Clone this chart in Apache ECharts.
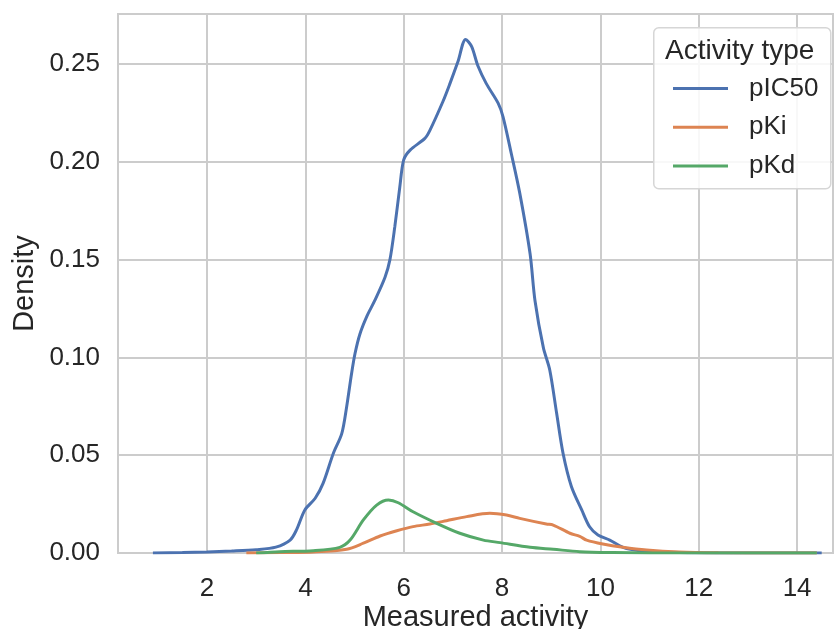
<html>
<head>
<script src="https://cdn.jsdelivr.net/npm/echarts@6/dist/echarts.min.js"></script>
</head>
<body style="margin:0">
<div id="main" style="width:834px;height:629px;"></div>
<script>
// KDE curves: x = measured activity, y = density
var seriesNames = ['pIC50', 'pKi', 'pKd'];
var seriesColors = ['#4c72b0', '#dd8452', '#55a868'];

var ic50X = [0.9, 1.5, 2.0, 2.5, 3.0, 3.4, 3.69, 3.82, 3.99, 4.2, 4.36, 4.57, 4.74, 4.84, 4.94, 5.01, 5.11, 5.25, 5.41, 5.62, 5.72, 5.82, 5.92, 6.0, 6.13, 6.43, 6.53, 6.8, 6.94, 7.1, 7.26, 7.38, 7.51, 7.68, 7.92, 8.02, 8.19, 8.36, 8.57, 8.67, 8.84, 8.97, 9.11, 9.24, 9.41, 9.62, 9.78, 9.95, 10.19, 10.46, 10.8, 11.6, 12.5, 13.5, 14.5];
var ic50Y = [0.0, 0.0002, 0.0005, 0.001, 0.0017, 0.003, 0.0066, 0.0118, 0.022, 0.028, 0.0356, 0.051, 0.061, 0.0748, 0.0918, 0.102, 0.112, 0.121, 0.129, 0.141, 0.150, 0.167, 0.187, 0.201, 0.206, 0.212, 0.216, 0.231, 0.240, 0.251, 0.2626, 0.259, 0.249, 0.240, 0.230, 0.223, 0.204, 0.184, 0.153, 0.129, 0.105, 0.0936, 0.0714, 0.051, 0.034, 0.022, 0.0134, 0.0092, 0.0066, 0.0029, 0.0012, 0.0002, 0.0, 0.0, 0.0];

var kiX = [2.8, 3.5, 4.16, 4.84, 5.18, 5.52, 5.86, 6.19, 6.53, 6.87, 7.28, 7.75, 8.09, 8.36, 8.9, 9.04, 9.38, 9.58, 9.72, 10.05, 10.46, 10.94, 11.6, 12.4, 13.5, 14.4];
var kiY = [0.0, 0.0002, 0.0005, 0.0019, 0.005, 0.0087, 0.0114, 0.0135, 0.0148, 0.0165, 0.0186, 0.0203, 0.0194, 0.0177, 0.0148, 0.0143, 0.0101, 0.0085, 0.0066, 0.0046, 0.0029, 0.0015, 0.0005, 0.0001, 0.0, 0.0];

var kdX = [3.0, 3.48, 4.16, 4.7, 4.91, 5.18, 5.45, 5.69, 5.89, 6.19, 6.67, 7.14, 7.62, 7.96, 8.57, 9.04, 9.58, 10.26, 11.0, 12.5, 14.4];
var kdY = [0.0, 0.0007, 0.0012, 0.0029, 0.0066, 0.0169, 0.0245, 0.0271, 0.0257, 0.0211, 0.0152, 0.0101, 0.0066, 0.0053, 0.0029, 0.0019, 0.0007, 0.0002, 0.0, 0.0, 0.0];

var xTicks = [2, 4, 6, 8, 10, 12, 14];
var yTicks = [0.00, 0.05, 0.10, 0.15, 0.20, 0.25];

function pairs(xs, ys) {
    return xs.map(function (x, i) { return [x, ys[i]]; });
}

var myChart = echarts.init(document.getElementById('main'));
var font = 'Liberation Sans, Arial, sans-serif';
var gridColor = '#cccccc';
var ink = '#262626';

var allX = [ic50X, kiX, kdX];
var allY = [ic50Y, kiY, kdY];

var option = {
    animation: false,
    textStyle: { fontFamily: font },
    grid: {
        left: 118, right: 1, top: 14, bottom: 76,
        outerBoundsMode: 'none', containLabel: false,
        show: true, borderColor: gridColor, borderWidth: 2
    },
    xAxis: {
        type: 'value', min: 0.19, max: 14.73, minInterval: 2, maxInterval: 2,
        name: 'Measured activity', nameLocation: 'middle', nameGap: 40, nameMoveOverlap: false,
        nameTextStyle: { fontSize: 29, color: ink, fontFamily: font },
        axisLine: { show: false }, axisTick: { show: false },
        axisLabel: {
            fontSize: 26, color: ink, margin: 13, fontFamily: font,
            formatter: function (v) { return xTicks.indexOf(v) >= 0 ? String(v) : ''; }
        },
        splitLine: { lineStyle: { color: gridColor, width: 2 } }
    },
    yAxis: {
        type: 'value', min: 0, max: 0.2756, interval: 0.05,
        name: 'Density', nameLocation: 'middle', nameGap: 68, nameMoveOverlap: false,
        nameTextStyle: { fontSize: 29, color: ink, fontFamily: font },
        axisLine: { show: false }, axisTick: { show: false },
        axisLabel: {
            fontSize: 26, color: ink, margin: 18, fontFamily: font,
            formatter: function (v) {
                var hit = yTicks.some(function (t) { return Math.abs(t - v) < 1e-9; });
                return hit ? v.toFixed(2) : '';
            }
        },
        splitLine: { lineStyle: { color: gridColor, width: 2 } }
    },
    legend: {
        orient: 'vertical', left: 668, top: 61, z: 20,
        icon: 'rect', itemWidth: 55, itemHeight: 3, itemGap: -6,
        data: seriesNames,
        textStyle: { fontSize: 26, color: ink, padding: [0, 0, 0, 16], fontFamily: font }
    },
    graphic: [
        {
            type: 'rect', left: 653, top: 27, z: 10,
            shape: { width: 177, height: 161, r: 5 },
            style: { fill: 'rgba(255,255,255,0.85)', stroke: '#d6d6d6', lineWidth: 1.5 }
        },
        {
            type: 'text', left: 665, top: 27, z: 21,
            style: { text: 'Activity type', fontSize: 28, fill: ink, fontFamily: font }
        }
    ],
    series: seriesNames.map(function (name, i) {
        return {
            name: name, type: 'line', smooth: 0.3, showSymbol: false, symbol: 'none',
            lineStyle: { color: seriesColors[i], width: 3 },
            itemStyle: { color: seriesColors[i] },
            data: pairs(allX[i], allY[i])
        };
    })
};
myChart.setOption(option);
</script>
</body>
</html>
